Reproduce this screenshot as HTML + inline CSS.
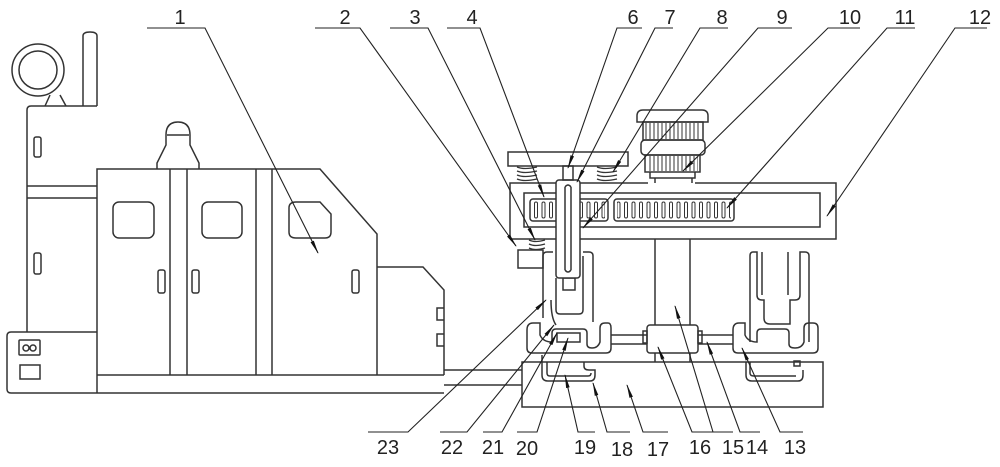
<!DOCTYPE html>
<html><head><meta charset="utf-8"><style>
html,body{margin:0;padding:0;background:#fff;}
svg{display:block}
text{font-family:"Liberation Sans",sans-serif;font-size:20px;fill:#222;text-anchor:middle}
</style></head><body>
<svg width="1000" height="467" viewBox="0 0 1000 467" xmlns="http://www.w3.org/2000/svg">
<defs>
<marker id="a" markerWidth="14" markerHeight="6" refX="13" refY="3" orient="auto" markerUnits="userSpaceOnUse">
<path d="M0,1.2 L14,3 L0,4.8 Z" fill="#111"/></marker>
<pattern id="teeth" width="7.5" height="20" patternUnits="userSpaceOnUse">
<rect x="2" y="2" width="3" height="16" rx="1.5" fill="none" stroke="#333" stroke-width="1"/></pattern>
<pattern id="mt" width="4" height="20" patternUnits="userSpaceOnUse">
<line x1="2" y1="0" x2="2" y2="20" stroke="#333" stroke-width="1"/></pattern>
</defs>
<g fill="none" stroke="#333" stroke-width="1.5">
<!-- car -->
<circle cx="38" cy="70" r="26"/><circle cx="38" cy="70" r="19"/>
<path d="M45,106 L50,95 M60,95 L66,106"/>
<path d="M83,106 V36 Q83,32 90,32 Q97,32 97,36 V106"/>
<path d="M27,332 V110 Q27,106 31,106 H97"/>
<path d="M27,186 H97 M27,198 H97"/>
<rect x="34" y="137" width="7" height="20" rx="2"/><rect x="34" y="253" width="7" height="21" rx="2"/>
<path d="M97,332 H11 Q7,332 7,336 V389 Q7,393 11,393 H97"/>
<rect x="19" y="340" width="21" height="15" rx="1"/><circle cx="26" cy="348" r="3"/><circle cx="33" cy="348" r="3"/>
<rect x="20" y="365" width="20" height="14"/>
<path d="M97,393 V169 H320 L377,234 V375"/>
<path d="M97,375 H444 M97,393 H444"/>
<path d="M170,169 V375 M187,169 V375 M256,169 V375 M272,169 V375"/>
<path d="M157,169 V163 L166,145 V135 Q166,122 178,122 Q190,122 190,135 V145 L199,163 V169"/>
<path d="M167,135 H189"/>
<rect x="113" y="202" width="41" height="36" rx="6"/>
<rect x="202" y="202" width="40" height="36" rx="6"/>
<path d="M289,208 Q289,202 296,202 H320 L331,214 V232 Q331,238 325,238 H296 Q289,238 289,232 Z"/>
<rect x="158" y="270" width="7" height="23" rx="2"/><rect x="192" y="270" width="7" height="23" rx="2"/><rect x="352" y="270" width="7" height="23" rx="2"/>
<path d="M377,267 H423 L444,290 V375"/>
<path d="M444,308 H437 V320 H444 M444,334 H437 V346 H444"/>
<path d="M444,370 H522 M444,385 H522"/>
<!-- base -->
<rect x="522" y="362" width="301" height="45"/>
<path d="M542,355 V375 Q542,381 548,381 H590 Q595,381 595,375 V370 H589 Q584,370 584,366 V362"/>
<path d="M547,362 V373 Q547,376 550,376 H588 Q591,376 591,373"/>
<path d="M746,362 V375 Q746,381 752,381 H798 Q803,381 803,375 V370"/>
<path d="M750,362 V373 Q750,376 754,376 H796"/>
<rect x="794" y="361" width="6" height="5"/>
<!-- clamps -->
<path d="M527,330 Q527,323 533,323 H540 V335 Q543,342 552,342 V333 Q552,329 556,329 H583 Q587,329 587,333 V344 Q587,348 592,348 Q598,348 600,342 V328 Q600,323 605,323 H608 Q611,323 611,328 V348 Q611,353 606,353 H532 Q527,353 527,348 Z"/>
<path d="M557,333 H580 V342 H557 Z"/>
<path d="M733,330 Q733,323 739,323 H745 V335 Q748,342 757,342 V333 Q757,329 761,329 H785 Q789,329 789,333 V344 Q789,348 795,348 Q802,348 804,342 V328 Q804,323 809,323 H813 Q818,323 818,328 V348 Q818,353 813,353 H738 Q733,353 733,348 Z"/>
<path d="M611,335 H647 M611,344 H647 M698,335 H733 M698,344 H733"/>
<rect x="647" y="325" width="51" height="28" rx="3"/>
<rect x="643" y="331" width="4" height="12"/><rect x="698" y="331" width="4" height="12"/>
<!-- column -->
<path d="M655,239 V325 M690,239 V325 M655,353 V362 M690,353 V362"/>
<!-- right fork -->
<path d="M750,342 V256 Q750,252 753,252 H757 V295 Q757,300 762,300 H764 V318 Q764,324 770,324 H790 V300 H795 Q800,300 800,295 V252 H805 Q809,252 809,256 V342"/>
<path d="M762,252 V295 M788,252 V295"/>
<!-- left slider -->
<path d="M543,318 V256 Q543,252 547,252 H553"/>
<path d="M583,252 H589 Q593,252 593,256 V322"/>
<path d="M556,278 V310 Q556,314 560,314 H579 Q583,314 583,310 V256"/>
<path d="M551,300 Q551,318 556,325"/>
<rect x="563" y="278" width="12" height="12"/>
<!-- box 2 -->
<rect x="518" y="250" width="25" height="18"/>
<!-- beam -->
<path d="M510,239 V183 H648 M695,183 H836 V239 H510"/>
<rect x="524" y="193" width="296" height="34"/>
<rect x="530" y="199" width="78" height="22" rx="3"/>
<rect x="533" y="201" width="72" height="18" fill="url(#teeth)" stroke="none"/>
<rect x="614" y="199" width="120" height="22" rx="3"/>
<rect x="617" y="201" width="114" height="18" fill="url(#teeth)" stroke="none"/>
<!-- rack 7 -->
<rect x="556" y="180" width="24" height="98" rx="3" fill="#fff"/>
<path d="M565,187 V270 M571,187 V270 M565,187 Q568,183 571,187 M565,270 Q568,274 571,270"/>
<!-- top plate -->
<rect x="508" y="152" width="120" height="14"/>
<rect x="563" y="166" width="10" height="14"/>
<!-- springs -->
<g stroke-width="1.3">
<path d="M517,167 q7,3 20,0 M517,171 q7,3 20,0 M517,175 q7,3 20,0 M517,179 q7,3 20,0"/>
<path d="M597,167 q7,3 20,0 M597,171 q7,3 20,0 M597,175 q7,3 20,0 M597,179 q7,3 20,0"/>
<path d="M529,240 q6,3 16,0 M529,244 q6,3 16,0 M529,248 q6,3 16,0"/>
</g>
<!-- motor -->
<path d="M637,122 V116 Q637,110 643,110 H702 Q708,110 708,116 V122 Z"/>
<rect x="643" y="122" width="60" height="18"/>
<rect x="645" y="123" width="56" height="16" fill="url(#mt)" stroke="none"/>
<rect x="641" y="140" width="64" height="15" rx="4"/>
<rect x="645" y="155" width="55" height="17"/>
<rect x="647" y="156" width="51" height="15" fill="url(#mt)" stroke="none"/>
<path d="M650,172 V178 H695 V172"/>
<path d="M655,178 V183 M692,178 V183"/>
</g>
<!-- leaders -->
<g stroke="#222" stroke-width="1.1" fill="none">
<path d="M147,28 H205 L318,253" marker-end="url(#a)"/>
<path d="M315,28 H360 L516,246" marker-end="url(#a)"/>
<path d="M390,28 H428 L535,240" marker-end="url(#a)"/>
<path d="M447,28 H480 L544,197" marker-end="url(#a)"/>
<path d="M642,28 H617 L568,168" marker-end="url(#a)"/>
<path d="M673,28 H655 L577,182" marker-end="url(#a)"/>
<path d="M728,28 H700 L613,172" marker-end="url(#a)"/>
<path d="M792,28 H758 L583,228" marker-end="url(#a)"/>
<path d="M860,28 H828 L683,171" marker-end="url(#a)"/>
<path d="M915,28 H887 L727,208" marker-end="url(#a)"/>
<path d="M987,28 H955 L827,216" marker-end="url(#a)"/>
<path d="M368,432 H408 L546,300" marker-end="url(#a)"/>
<path d="M440,432 H467 L554,325" marker-end="url(#a)"/>
<path d="M483,432 H502 L557,333" marker-end="url(#a)"/>
<path d="M517,432 H537 L568,338" marker-end="url(#a)"/>
<path d="M595,432 H578 L565,375" marker-end="url(#a)"/>
<path d="M630,432 H607 L593,383" marker-end="url(#a)"/>
<path d="M668,432 H643 L627,385" marker-end="url(#a)"/>
<path d="M713,432 H692 L658,347" marker-end="url(#a)"/>
<path d="M733,432 H713 L675,306" marker-end="url(#a)"/>
<path d="M760,432 H740 L707,342" marker-end="url(#a)"/>
<path d="M803,432 H780 L742,348" marker-end="url(#a)"/>
</g>
<g>
<text x="180" y="24">1</text><text x="345" y="24">2</text><text x="415" y="24">3</text><text x="472" y="24">4</text>
<text x="633" y="24">6</text><text x="670" y="24">7</text><text x="722" y="24">8</text><text x="782" y="24">9</text>
<text x="850" y="24">10</text><text x="905" y="24">11</text><text x="980" y="24">12</text>
<text x="388" y="454">23</text><text x="452" y="454">22</text><text x="493" y="454">21</text><text x="527" y="455">20</text>
<text x="585" y="454">19</text><text x="622" y="456">18</text><text x="658" y="456">17</text><text x="700" y="454">16</text>
<text x="733" y="454">15</text><text x="757" y="454">14</text><text x="795" y="454">13</text>
</g>
</svg>
</body></html>
